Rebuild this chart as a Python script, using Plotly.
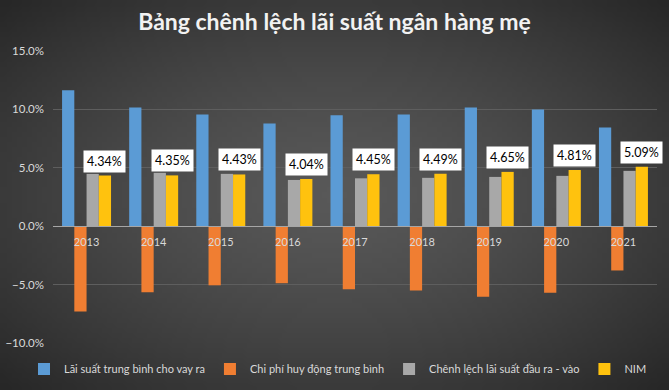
import plotly.graph_objects as go
import base64, zlib, struct, math

years = ["2013", "2014", "2015", "2016", "2017", "2018", "2019", "2020", "2021"]
lending = [11.64, 10.17, 9.57, 8.79, 9.50, 9.57, 10.17, 10.00, 8.45]
funding = [-7.30, -5.66, -5.06, -4.88, -5.40, -5.50, -6.03, -5.69, -3.79]
spread = [4.48, 4.57, 4.48, 3.96, 4.10, 4.14, 4.22, 4.31, 4.74]
nim = [4.34, 4.35, 4.43, 4.04, 4.45, 4.49, 4.65, 4.81, 5.09]
names = ["Lãi suất trung bình cho vay ra", "Chi phí huy động trung bình",
         "Chênh lệch lãi suất đầu ra - vào", "NIM"]
colors = ["#5B9BD5", "#F07E32", "#A8A8A8", "#FFC20E"]

W, H = 669, 390
ML, MR, MT, MB = 53, 12, 51, 47
BARGAP = 0.27


def make_bg(w, h):
    rows = []
    for j in range(h):
        row = bytearray([0])
        for i in range(w):
            dx = (i + 0.5) / w - 0.5
            dy = (j + 0.5) / h - 0.5
            d = min(1.0, math.sqrt(dx * dx + dy * dy) / 0.7071)
            v = int(round(88 - (88 - 38) * d ** 1.4))
            row += bytes([v, v, v])
        rows.append(bytes(row))
    raw = b"".join(rows)

    def chunk(t, data):
        c = struct.pack(">I", len(data)) + t + data
        return c + struct.pack(">I", zlib.crc32(t + data) & 0xffffffff)

    png = b"\x89PNG\r\n\x1a\n" + chunk(b"IHDR", struct.pack(">IIBBBBB", w, h, 8, 2, 0, 0, 0))
    png += chunk(b"IDAT", zlib.compress(raw, 9)) + chunk(b"IEND", b"")
    return "data:image/png;base64," + base64.b64encode(png).decode()


fig = go.Figure()
for name, vals, col in zip(names, [lending, funding, spread, nim], colors):
    fig.add_trace(go.Bar(x=years, y=vals, name=name, marker=dict(color=col, line=dict(width=0))))

bw = (1 - BARGAP) / 4
for i, v in enumerate(nim):
    fig.add_annotation(x=i + 1.5 * bw, y=v, text=f"{v:.2f}%", showarrow=False,
                       yanchor="bottom", yshift=3, bgcolor="white", borderpad=3,
                       font=dict(family="Lato", size=12.5, color="black"))

pw = W - ML - MR
ph = H - MT - MB
fig.add_layout_image(dict(source=make_bg(134, 78), xref="paper", yref="paper",
                          x=-ML / pw, y=1 + MT / ph, sizex=W / pw, sizey=H / ph,
                          xanchor="left", yanchor="top", sizing="stretch", layer="below"))

fig.update_layout(
    width=W, height=H, margin=dict(l=ML, r=MR, t=MT, b=MB, autoexpand=False),
    paper_bgcolor="#3a3a3a", plot_bgcolor="rgba(0,0,0,0)",
    barmode="group", bargap=BARGAP, bargroupgap=0,
    title=dict(text="<b>Bảng chênh lệch lãi suất ngân hàng mẹ</b>", x=0.5, xanchor="center",
               y=1 - 22 / H, yanchor="middle", font=dict(family="Lato", size=23, color="#f2f2f2")),
    font=dict(family="Lato", color="#d9d9d9", size=11.5),
    legend=dict(orientation="h", x=-(53 - 24) / pw, xanchor="left", y=-(369 - (H - MB)) / ph, yanchor="middle",
                font=dict(size=11, color="#d9d9d9"), bgcolor="rgba(0,0,0,0)", itemwidth=30,
                tracegroupgap=0),
    xaxis=dict(type="category", anchor="free", position=10 / 25, showline=True, range=[-0.5, 8.5],
               linecolor="#a6a6a6", linewidth=1, ticks="", showgrid=False,
               tickfont=dict(size=11, color="#d9d9d9"), automargin=False, ticklabelstandoff=6),
    yaxis=dict(range=[-10, 15], dtick=5, tickformat=".1f", ticksuffix="%",
               showgrid=True, gridcolor="#5e5e5e", gridwidth=1, zeroline=False,
               tickfont=dict(size=11.5, color="#d9d9d9"), ticklabelstandoff=8, automargin=False),
    showlegend=True,
)

fig.write_html("out.html", config={"displayModeBar": False},
               post_script="document.body.style.margin='0px';document.body.style.padding='0px';")
